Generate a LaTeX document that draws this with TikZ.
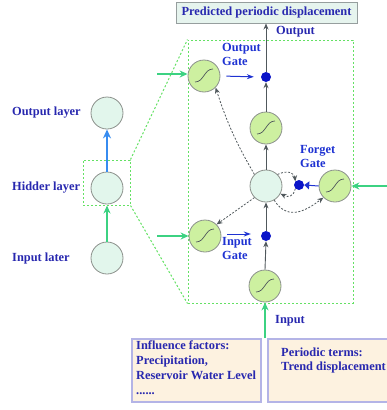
\documentclass[tikz,border=0pt]{standalone}
\usepackage{fontspec}
\setmainfont{Liberation Serif}
\usetikzlibrary{arrows.meta}

\definecolor{labelblue}{RGB}{40,40,175}
\definecolor{gateblue}{RGB}{30,50,210}
\definecolor{dotblue}{RGB}{10,20,200}
\definecolor{cellfill}{RGB}{226,246,236}
\definecolor{sigfill}{RGB}{205,240,160}
\definecolor{rimgrey}{RGB}{140,145,140}
\definecolor{flowgrey}{RGB}{80,88,92}
\definecolor{feedgreen}{RGB}{60,210,130}
\definecolor{liftblue}{RGB}{55,140,240}
\definecolor{framegreen}{RGB}{100,225,100}
\definecolor{headfill}{RGB}{230,244,238}
\definecolor{headedge}{RGB}{150,158,158}
\definecolor{notefill}{RGB}{253,242,224}
\definecolor{noteedge}{RGB}{180,180,230}

\begin{document}
\begin{tikzpicture}[x=1pt,y=-1pt,
  font=\fontsize{12.4}{14.5}\selectfont\bfseries,
  lbl/.style={text=labelblue, inner sep=0pt},
  gatelbl/.style={text=gateblue, align=left, inner sep=0pt},
  unit/.style={circle, draw=rimgrey, line width=0.8pt, fill=cellfill,
    minimum size=32pt, inner sep=0pt},
  sigm/.style={unit, fill=sigfill,
    path picture={\draw[flowgrey, line width=0.7pt]
      ([xshift=-9pt,yshift=-6pt]path picture bounding box.center)
      .. controls +(9pt,0pt) and +(-9pt,0pt) ..
      ([xshift=9pt,yshift=7pt]path picture bounding box.center);}},
  gatedot/.style={circle, fill=dotblue, minimum size=10pt, inner sep=0pt},
  flow/.style={draw=flowgrey, line width=0.9pt, -{Stealth[length=6pt,width=5pt]}},
  feed/.style={draw=feedgreen, line width=1.6pt, -{Stealth[length=8pt,width=7pt]}},
  lift/.style={draw=liftblue, line width=2pt, -{Stealth[length=9pt,width=8pt]}},
  gatearrow/.style={draw=gateblue, line width=1pt, -{Stealth[length=7pt,width=5pt]}},
  recur/.style={draw=flowgrey, line width=0.8pt, dash pattern=on 2pt off 1.6pt,
    -{Stealth[length=6pt,width=5pt]}},
  frame/.style={draw=framegreen, line width=1pt, dash pattern=on 2pt off 2pt},
  headbox/.style={draw=headedge, line width=1pt, fill=headfill, inner sep=0pt},
  notebox/.style={draw=noteedge, line width=1.5pt, fill=notefill, inner sep=0pt}
]
\clip (0,0) rectangle (387,410);

% ---- network overview (left column) ----
\node[unit] (Lout) at (107,113) {};
\node[unit] (Lhid) at (107,188) {};
\node[unit] (Lin)  at (107,258) {};
\node[lbl, anchor=west] (tOut) at (12,113) {Output layer};
\node[lbl, anchor=west] (tHid) at (12,188) {Hidder layer};
\node[lbl, anchor=west] (tIn)  at (12,259) {Input later};
\node[frame, minimum width=47pt, minimum height=45pt, inner sep=0pt] (hbox) at (106.5,182.5) {};
\draw[lift] (Lhid.north) -- (Lout.south);
\draw[feed] (Lin.north) -- (hbox.south -| Lin);

% ---- expanded LSTM cell ----
\node[frame, minimum width=165pt, minimum height=263pt, inner sep=0pt] (cbox) at (270.5,171.5) {};
\draw[frame] (hbox.north east) -- (cbox.north west);
\draw[frame] (hbox.south east) -- (cbox.south west);

\node[headbox, minimum width=181pt, minimum height=21pt, text=labelblue] (head) at (266.5,12.5) {Predicted periodic displacement};

\node[sigm]    (OG) at (204,76) {};
\node[gatedot] (OD) at (266,77) {};
\node[sigm]    (TH) at (266,128) {};
\node[unit]    (C)  at (266,186) {};
\node[gatedot] (FD) at (299,185) {};
\node[sigm]    (FG) at (335,186) {};
\node[sigm]    (IG) at (205,236) {};
\node[gatedot] (ID) at (266,236) {};
\node[sigm]    (IN) at (265,286) {};

% gate labels
\node[gatelbl, anchor=north west] (tOG) at (222,43) {Output\\Gate};
\node[gatelbl, anchor=north west] (tIG) at (222,237) {Input\\Gate};
\node[gatelbl, anchor=north west] (tFG) at (300,145) {Forget\\Gate};
\node[lbl, anchor=west] (tOutput) at (276,32) {Output};
\node[lbl, anchor=west] (tInput)  at (275,321) {Input};

% main vertical signal path
\draw[flow] (IN.north) -- (ID.south);
\draw[flow] (ID.north) -- (C.south);
\draw[flow] (C.north) -- (TH.south);
\draw[flow] (TH.north) -- (OD.south);
\draw[flow] (OD.north) -- (head.south -| OD);

% gate outputs into the multipliers
\draw[gatearrow, shorten <=6pt, shorten >=7pt] (OG.east) -- (OD.west);
\draw[gatearrow, shorten <=6pt, shorten >=10pt] ([yshift=2pt]IG.east) -- ([yshift=2pt]ID.west);
\draw[draw=gateblue, line width=1pt, -{Triangle[length=5pt,width=8pt]}] (FG.west) -- (FD.east);

% recurrent (dotted) connections
\draw[recur] (C.135) to[bend left=6] (OG.south east);
\draw[recur] (C.225) -- (IG.north east);
\draw[recur] (C.45) .. controls +(11,-5) and +(-1,-8) .. (FD.north west);
\draw[recur] (FD.south west) .. controls +(-2,8) and +(8,4) .. (C.-28);
\draw[recur] (C.-60) .. controls +(14,22) and +(-16,12) .. (FG.south west);

% external inputs
\coordinate (eOG) at (157,74);
\coordinate (eIG) at (157,236);
\coordinate (eFG) at (390,186);
\coordinate (eIN) at (265,338);
\draw[feed] (eOG) -- (eOG -| OG.west);
\draw[feed] (eIG) -- (IG.west);
\draw[feed] (eFG) -- (FG.east);
\draw[feed] (eIN) -- (IN.south);

% source notes
\node[notebox, minimum width=129pt, minimum height=63pt] (n1) at (196.5,370.5) {};
\node[notebox, minimum width=129pt, minimum height=63pt] (n2) at (332.5,370.5) {};
\node[lbl, anchor=north west, align=left, font=\fontsize{12.4}{15}\selectfont\bfseries]
  (n1t) at (136,341) {Influence factors:\\Precipitation,\\Reservoir Water Level\\......};
\node[lbl, anchor=north west, align=left, font=\fontsize{12.4}{14}\selectfont\bfseries]
  (n2t) at (281,348) {Periodic terms:\\Trend displacement};
\end{tikzpicture}
\end{document}
